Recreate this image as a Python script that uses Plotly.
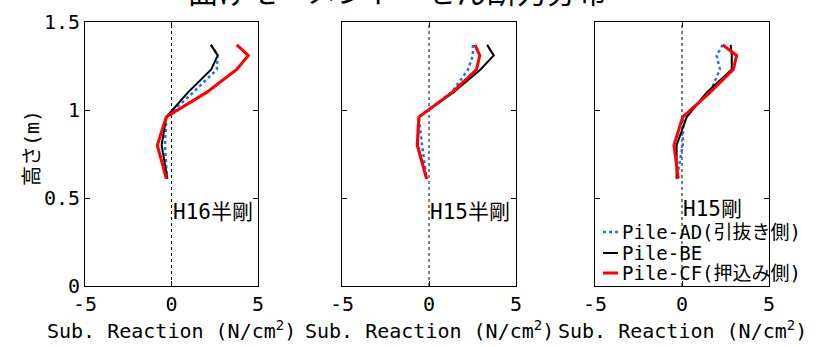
import plotly.graph_objects as go

heights = [1.37, 1.31, 1.23, 1.10, 0.96, 0.80, 0.61]

panel_labels = ["H16半剛", "H15半剛", "H15剛"]
series_names = ["Pile-AD(引抜き側)", "Pile-BE", "Pile-CF(押込み側)"]

# panel 1 (H16半剛)
p1_ad = [2.28, 2.67, 2.62, 1.25, -0.30, -0.38, -0.26]
p1_be = [2.28, 2.67, 2.30, 0.95, -0.30, -0.57, -0.24]
p1_cf = [3.77, 4.44, 3.77, 2.03, -0.30, -0.82, -0.30]
# panel 2 (H15半剛)
p2_ad = [2.52, 2.52, 2.25, 1.30, -0.58, -0.40, -0.14]
p2_be = [3.34, 3.72, 2.96, 1.40, -0.58, -0.64, -0.14]
p2_cf = [2.64, 2.92, 2.73, 1.33, -0.58, -0.68, -0.14]
# panel 3 (H15剛)
p3_ad = [2.34, 1.99, 2.18, 1.61, 0.08, 0.04, -0.30]
p3_be = [2.80, 2.86, 2.86, 1.42, 0.27, -0.31, -0.31]
p3_cf = [2.34, 3.14, 2.95, 1.61, 0.04, -0.46, -0.21]

panels = [(p1_ad, p1_be, p1_cf), (p2_ad, p2_be, p2_cf), (p3_ad, p3_be, p3_cf)]

x_ticks = [-5, 0, 5]
x_ticktext = ["-5", "0", "5"]
y_ticks = [0, 0.5, 1, 1.5]
y_ticktext = ["0", "0.5", "1", "1.5"]

W, H = 822, 347
FONT = "DejaVu Sans Mono, Noto Sans CJK JP, sans-serif"

x_px = [(85, 258), (342, 516), (595, 769)]
y_px = (22, 286)

styles = [
    dict(color="#1f6fff", width=2.5, dash="dot"),
    dict(color="black", width=2),
    dict(color="#ff0000", width=3),
]

fig = go.Figure()
for i, data in enumerate(panels):
    xa = "x" if i == 0 else f"x{i+1}"
    ya = "y" if i == 0 else f"y{i+1}"
    for j, vals in enumerate(data):
        fig.add_trace(go.Scatter(
            x=vals, y=heights, mode="lines", line=styles[j],
            name=series_names[j], showlegend=False,
            xaxis=xa, yaxis=ya,
        ))
    # zero reference line
    fig.add_shape(type="line", xref=xa, yref=ya, x0=0, x1=0, y0=0, y1=1.5,
                  line=dict(color="black", width=1, dash="dot"), layer="below")
    fig.add_annotation(xref=xa, yref=ya, x=0, y=(0.42 if i < 2 else 0.435),
                       text=panel_labels[i], showarrow=False,
                       xanchor="left", yanchor="middle", xshift=-1,
                       font=dict(family=FONT, size=21, color="black"))
    # x axis title
    cx = (x_px[i][0] + x_px[i][1]) / 2 / W
    fig.add_annotation(xref="paper", yref="paper", x=cx, y=1 - 330 / H,
                       text="Sub. Reaction (N/cm<sup>2</sup>)", showarrow=False,
                       xanchor="center", yanchor="middle",
                       font=dict(family=FONT, size=20, color="black"))

# manual legend (overlapping third panel, as in the original)
leg_rows = [232, 253, 273]
for j, name in enumerate(series_names):
    yy = 1 - leg_rows[j] / H
    fig.add_shape(type="line", xref="paper", yref="paper",
                  x0=603 / W, x1=618 / W, y0=yy, y1=yy,
                  line=dict(color=styles[j]["color"], width=styles[j]["width"],
                            dash="dot" if j == 0 else "solid"))
    fig.add_annotation(xref="paper", yref="paper", x=620 / W, y=yy,
                       text=name, showarrow=False, xanchor="left", yanchor="middle",
                       font=dict(family=FONT, size=19, color="black"))

axis_common = dict(showline=True, linecolor="black", linewidth=1, mirror="ticks",
                   ticks="inside", ticklen=5, tickcolor="black", showgrid=False,
                   zeroline=False, automargin=False,
                   tickfont=dict(family=FONT, size=20, color="black"))

layout = dict(
    width=W, height=H, margin=dict(l=0, r=0, t=0, b=0, autoexpand=False),
    plot_bgcolor="white", paper_bgcolor="white",
    font=dict(family=FONT, size=20, color="black"),
    showlegend=False,
)
for i in range(3):
    sx = "" if i == 0 else str(i + 1)
    layout[f"xaxis{sx}"] = dict(
        domain=[x_px[i][0] / W, x_px[i][1] / W], range=[-5, 5],
        tickvals=x_ticks, ticktext=x_ticktext, anchor=f"y{sx}", **axis_common)
    layout[f"yaxis{sx}"] = dict(
        domain=[1 - y_px[1] / H, 1 - y_px[0] / H], range=[0, 1.5],
        tickvals=y_ticks, ticktext=y_ticktext,
        showticklabels=(i == 0), anchor=f"x{sx}", **axis_common)

fig.update_layout(**layout)

fig.add_annotation(xref="paper", yref="paper", x=397 / W, y=1 - 12 / H,
                   text="曲げモーメント・せん断力分布", showarrow=False,
                   xanchor="center", yanchor="bottom",
                   font=dict(family=FONT, size=30, color="black"))
fig.add_annotation(xref="paper", yref="paper", x=32 / W, y=1 - 148 / H,
                   text="高さ(m)", showarrow=False, textangle=-90,
                   xanchor="center", yanchor="middle",
                   font=dict(family=FONT, size=20, color="black"))

fig.write_html("out.html", config={"displayModeBar": False},
               post_script="document.body.style.margin='0';document.body.style.overflow='hidden';")
